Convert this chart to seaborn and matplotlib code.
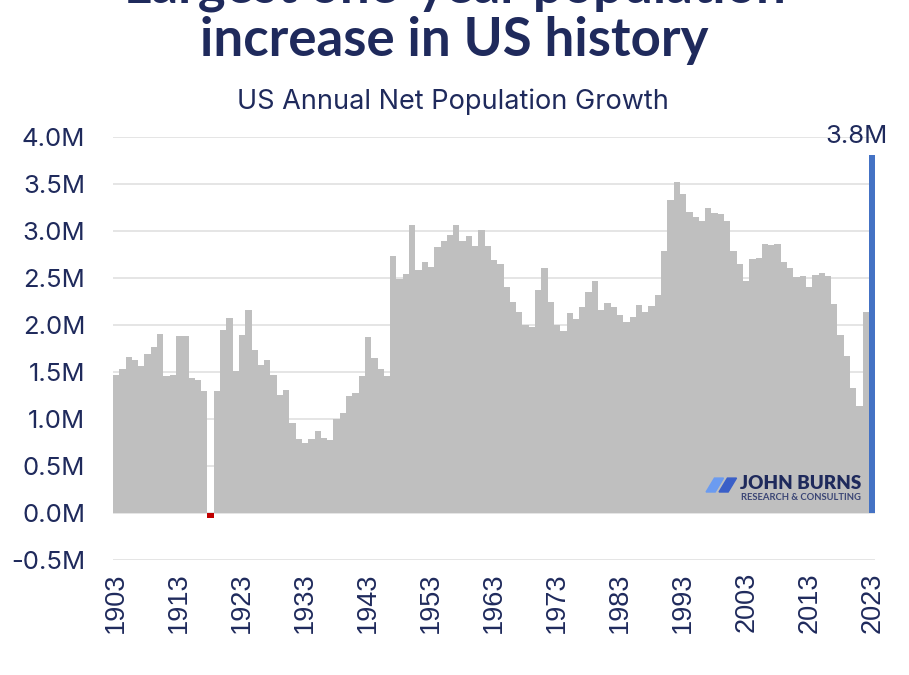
import matplotlib
matplotlib.use("Agg")
import matplotlib.pyplot as plt
import seaborn as sns
from matplotlib.patches import Polygon

sns.set_style("white")
plt.rcParams['font.family'] = ['Inter', 'DejaVu Sans']

# US annual net population growth, millions
years = list(range(1903, 2024))
growth = [
    1.47, 1.53, 1.66, 1.63, 1.56, 1.69, 1.77, 1.90, 1.46, 1.47,   # 1903-1912
    1.88, 1.88, 1.43, 1.41, 1.30, -0.06, 1.30, 1.95, 2.07, 1.51,  # 1913-1922
    1.89, 2.16, 1.73, 1.57, 1.63, 1.47, 1.25, 1.31, 0.96, 0.79,   # 1923-1932
    0.74, 0.79, 0.87, 0.80, 0.77, 1.00, 1.06, 1.24, 1.28, 1.46,   # 1933-1942
    1.87, 1.65, 1.53, 1.46, 2.74, 2.49, 2.54, 3.07, 2.59, 2.67,   # 1943-1952
    2.62, 2.83, 2.89, 2.96, 3.07, 2.89, 2.95, 2.84, 3.01, 2.84,   # 1953-1962
    2.69, 2.65, 2.41, 2.25, 2.14, 2.00, 1.98, 2.37, 2.61, 2.24,   # 1963-1972
    2.00, 1.94, 2.13, 2.06, 2.19, 2.35, 2.47, 2.16, 2.23, 2.19,   # 1973-1982
    2.11, 2.03, 2.09, 2.21, 2.14, 2.20, 2.32, 2.79, 3.33, 3.52,   # 1983-1992
    3.40, 3.20, 3.15, 3.11, 3.25, 3.19, 3.18, 3.11, 2.79, 2.65,   # 1993-2002
    2.47, 2.70, 2.71, 2.86, 2.85, 2.86, 2.67, 2.61, 2.51, 2.52,   # 2003-2012
    2.40, 2.53, 2.55, 2.52, 2.22, 1.89, 1.67, 1.33, 1.14, 2.14,   # 2013-2022
    3.81,                                                          # 2023
]
yticks = [-0.5, 0.0, 0.5, 1.0, 1.5, 2.0, 2.5, 3.0, 3.5, 4.0]
peak_label = "3.8M"

NAVY = "#1f2a5c"
GRAY = "#bfbfbf"
RED = "#c00000"
BLUE = "#4472c4"

labels = [str(y) for y in years]
colors = []
for i, v in enumerate(growth):
    if i == len(growth) - 1:
        colors.append(BLUE)
    elif v < 0:
        colors.append(RED)
    else:
        colors.append(GRAY)

fig = plt.figure(figsize=(9.09, 6.75), dpi=100)
ax = fig.add_axes([0.1243, 0.171, 0.8386, 0.6256])

sns.barplot(x=labels, y=growth, hue=labels, palette=colors, legend=False,
            width=1.0, saturation=1, linewidth=0, ax=ax, zorder=2)

ax.set_ylim(-0.5, 4.0)
ax.set_xlim(-0.5, len(years) - 0.5)
ax.set_yticks(yticks)
ax.set_yticklabels([f"{t:.1f}M" for t in yticks], fontsize=18.5)
ax.set_xticks(range(0, len(years), 10))
ax.set_xticklabels(labels[::10], rotation=90, fontsize=19.5,
                   family=['Liberation Sans', 'DejaVu Sans'])
ax.tick_params(axis='both', length=0, colors=NAVY)
ax.tick_params(axis='y', pad=20)
ax.tick_params(axis='x', pad=9)
ax.set_xlabel("")
ax.set_ylabel("")
ax.yaxis.grid(True, color="#e0e0e0", linewidth=1.2, zorder=0)
ax.set_axisbelow(True)
for s in ax.spines.values():
    s.set_visible(False)

# label on the latest bar
ax.annotate(peak_label, xy=(len(years) - 1, growth[-1]), xytext=(-11, 5),
            textcoords="offset points", ha="center", va="bottom",
            fontsize=18.5, color=NAVY, annotation_clip=False)

# titles (top line is cropped in the source graphic)
fig.text(0.5, 0.997, "Largest one-year population", ha="center",
         va="baseline", fontsize=38, fontweight="bold", color=NAVY,
         family=['Lato', 'DejaVu Sans'])
fig.text(0.5, 0.917, "increase in US history", ha="center",
         va="baseline", fontsize=38, fontweight="bold", color=NAVY,
         family=['Lato', 'DejaVu Sans'])
fig.text(0.498, 0.849, "US Annual Net Population Growth", ha="center",
         va="center", fontsize=19.5, color=NAVY)

# logo
ax.text(0.981, 0.179, "JOHN BURNS", transform=ax.transAxes, ha="right",
        va="center", fontsize=13.5, fontweight="heavy", color=NAVY,
        family=['Lato', 'DejaVu Sans'], zorder=5)
ax.text(0.981, 0.147, "RESEARCH & CONSULTING", transform=ax.transAxes,
        ha="right", va="center", fontsize=6.8, fontweight="bold",
        color="#3a4575", family=['Lato', 'DejaVu Sans'], zorder=5)
for dx, col in [(0.0, "#6b9bf0"), (0.017, "#3a5fc8")]:
    poly = Polygon([(0.778 + dx, 0.160), (0.790 + dx, 0.160),
                    (0.801 + dx, 0.193), (0.789 + dx, 0.193)],
                   closed=True, transform=ax.transAxes, color=col, zorder=5)
    ax.add_patch(poly)

fig.savefig("out.png", dpi=100)
